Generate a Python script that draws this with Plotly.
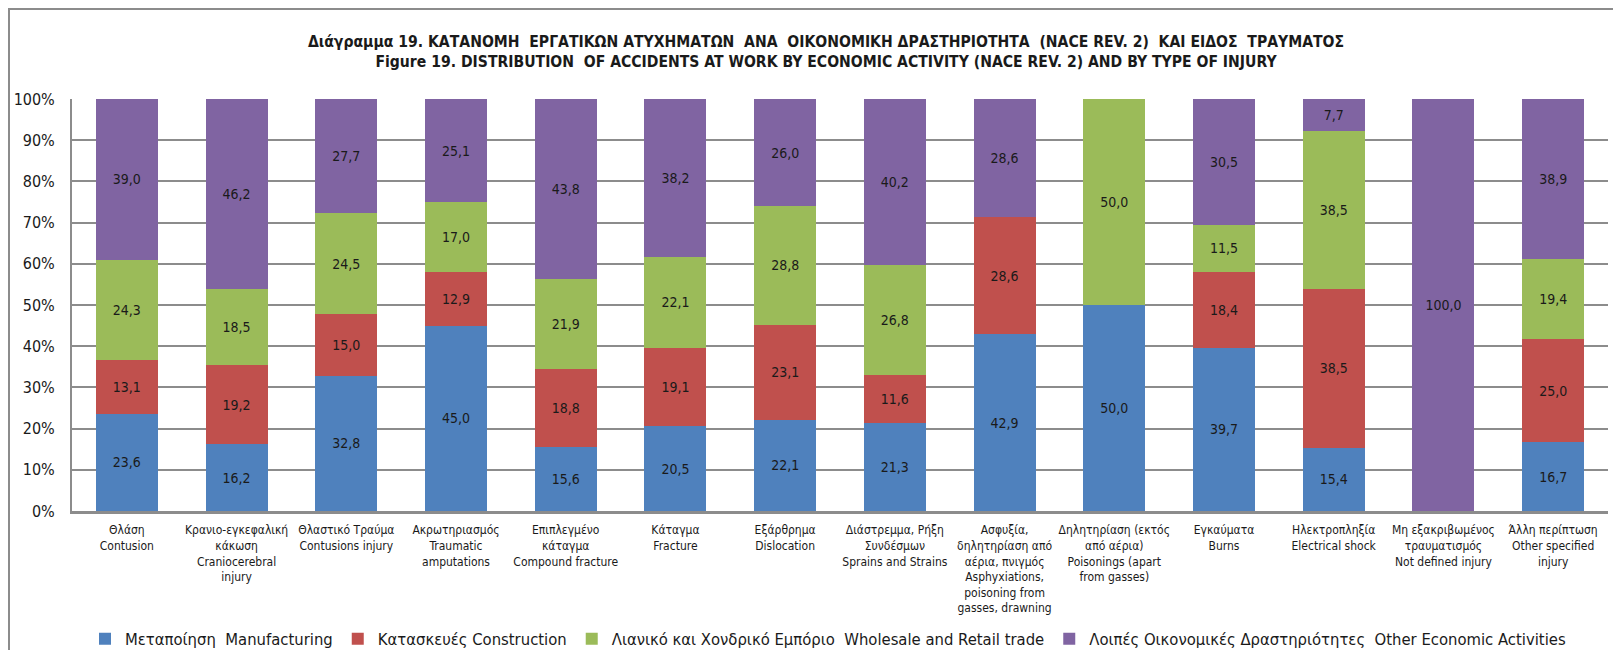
import plotly.graph_objects as go

# Injury types (x axis)
categories = [
    "Θλάση<br>Contusion",
    "Κρανιο-εγκεφαλική<br>κάκωση<br>Craniocerebral<br>injury",
    "Θλαστικό Τραύμα<br>Contusions injury",
    "Ακρωτηριασμός<br>Traumatic<br>amputations",
    "Επιπλεγμένο<br>κάταγμα<br>Compound fracture",
    "Κάταγμα<br>Fracture",
    "Εξάρθρημα<br>Dislocation",
    "Διάστρεμμα, Ρήξη<br>Συνδέσμων<br>Sprains and Strains",
    "Ασφυξία,<br>δηλητηρίαση από<br>αέρια, πνιγμός<br>Asphyxiations,<br>poisoning from<br>gasses, drawning",
    "Δηλητηρίαση (εκτός<br>από αέρια)<br>Poisonings (apart<br>from gasses)",
    "Εγκαύματα<br>Burns",
    "Ηλεκτροπληξία<br>Electrical shock",
    "Μη εξακριβωμένος<br>τραυματισμός<br>Not defined injury",
    "Άλλη περίπτωση<br>Other specified<br>injury",
]

manufacturing = [23.6, 16.2, 32.8, 45.0, 15.6, 20.5, 22.1, 21.3, 42.9, 50.0, 39.7, 15.4, 0.0, 16.7]
construction = [13.1, 19.2, 15.0, 12.9, 18.8, 19.1, 23.1, 11.6, 28.6, 0.0, 18.4, 38.5, 0.0, 25.0]
trade = [24.3, 18.5, 24.5, 17.0, 21.9, 22.1, 28.8, 26.8, 0.0, 50.0, 11.5, 38.5, 0.0, 19.4]
other = [39.0, 46.2, 27.7, 25.1, 43.8, 38.2, 26.0, 40.2, 28.6, 0.0, 30.5, 7.7, 100.0, 38.9]

series_names = [
    "Μεταποίηση  Manufacturing",
    "Κατασκευές Construction",
    "Λιανικό και Χονδρικό Εμπόριο  Wholesale and Retail trade",
    "Λοιπές Οικονομικές Δραστηριότητες  Other Economic Activities",
]
colors = ["#4F81BD", "#C0504D", "#9BBB59", "#8064A2"]

y_ticks = [0, 10, 20, 30, 40, 50, 60, 70, 80, 90, 100]

FONT = "DejaVu Sans Condensed, Roboto, sans-serif"

# the page body keeps its default 8px margin, so work in figure pixels
W, H = 1613, 642
plot_l, plot_r, plot_t, plot_b = 64, 1600, 91, 503


def label(v):
    # Greek decimal comma, hide empty segments
    return f"{v:.1f}".replace(".", ",") if v > 0 else ""


fig = go.Figure()
for name, vals, col in zip(series_names, [manufacturing, construction, trade, other], colors):
    fig.add_trace(go.Bar(
        name=name,
        x=categories,
        y=vals,
        marker=dict(color=col, line=dict(width=0)),
        text=[label(v) for v in vals],
        textposition="inside",
        insidetextanchor="middle",
        textangle=0,
        textfont=dict(family=FONT, size=14, color="#1a1a1a"),
        hoverinfo="skip",
    ))

# outer frame of the chart area
pw, ph = plot_r - plot_l, plot_b - plot_t
fig.add_shape(
    type="rect", xref="paper", yref="paper",
    x0=(1 - plot_l) / pw, x1=(1700 - plot_l) / pw,
    y0=(plot_b - 700) / ph, y1=(plot_b - 1) / ph,
    line=dict(color="#8c8c8c", width=2), fillcolor="rgba(0,0,0,0)", layer="below",
)

fig.update_layout(
    barmode="stack",
    barnorm="percent",
    bargap=0.435,
    width=W,
    height=H,
    margin=dict(l=plot_l, r=W - plot_r, t=plot_t, b=H - plot_b, autoexpand=False),
    paper_bgcolor="white",
    plot_bgcolor="white",
    font=dict(family=FONT, color="#1a1a1a"),
    title=dict(
        text="<b>Διάγραμμα 19. ΚΑΤΑΝΟΜΗ  ΕΡΓΑΤΙΚΩΝ ΑΤΥΧΗΜΑΤΩΝ  ΑΝΑ  ΟΙΚΟΝΟΜΙΚΗ ΔΡΑΣΤΗΡΙΟΤΗΤΑ  (NACE REV. 2)  ΚΑΙ ΕΙΔΟΣ  ΤΡΑΥΜΑΤΟΣ"
             "<br>Figure 19. DISTRIBUTION  OF ACCIDENTS AT WORK BY ECONOMIC ACTIVITY (NACE REV. 2) AND BY TYPE OF INJURY</b>",
        x=818 / W, xanchor="center", xref="container",
        y=1 - 38.5 / H, yanchor="middle", yref="container",
        font=dict(family=FONT, size=15.6, color="#1a1a1a"),
    ),
    legend=dict(
        orientation="h", x=820 / W, xanchor="center", xref="container",
        y=1 - 631 / H, yanchor="middle", yref="container",
        font=dict(family=FONT, size=16.5, color="#1a1a1a"),
        traceorder="normal", itemwidth=30,
    ),
    showlegend=True,
)

fig.update_yaxes(
    range=[0, 100],
    tickvals=y_ticks,
    ticktext=[f"{t}%" for t in y_ticks],
    tickfont=dict(family=FONT, size=16, color="#1a1a1a"),
    showgrid=True, gridcolor="#8c8c8c", gridwidth=2,
    showline=True, linecolor="#8c8c8c", linewidth=2, mirror=False,
    zeroline=False, ticks="", ticklabelstandoff=12,
)
fig.update_xaxes(
    tickfont=dict(family=FONT, size=12, color="#1a1a1a"),
    tickangle=0,
    showline=True, linecolor="#8c8c8c", linewidth=3,
    showgrid=False, ticks="", ticklabelstandoff=6,
)

fig.write_html("out.html")
